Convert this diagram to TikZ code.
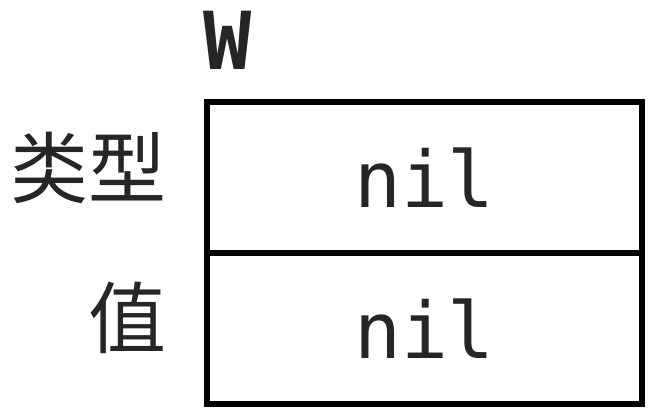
\documentclass[tikz,border=0pt]{standalone}
\usepackage{fontspec}
\setmonofont{DejaVu Sans Mono}
\newfontfamily\cjk{Noto Sans CJK SC}
\begin{document}
\begin{tikzpicture}[x=1pt,y=-1pt,
  cell/.style={draw=black,line width=6pt,minimum width=435pt,minimum height=151pt,inner sep=0pt},
  val/.style={font=\ttfamily\fontsize{78}{78}\selectfont,text=black!85},
  lbl/.style={font=\cjk\fontsize{78}{78}\selectfont,text=black!85,anchor=east}]
\useasboundingbox (0,0) rectangle (664,420);
\node[cell] (type) at (424.5,177.5) {};
\node[cell] (value) at (424.5,328.5) {};
\node[val] (t) at (type.center) {nil};
\node[val] (v) at (value.center) {nil};
\node[font=\ttfamily\bfseries\fontsize{80}{80}\selectfont,text=black!85,anchor=base] (w) at (228,70) {W};
\node[lbl] (lt) at (170,168) {类型};
\node[lbl] (lv) at (170,318) {值};
\end{tikzpicture}
\end{document}
